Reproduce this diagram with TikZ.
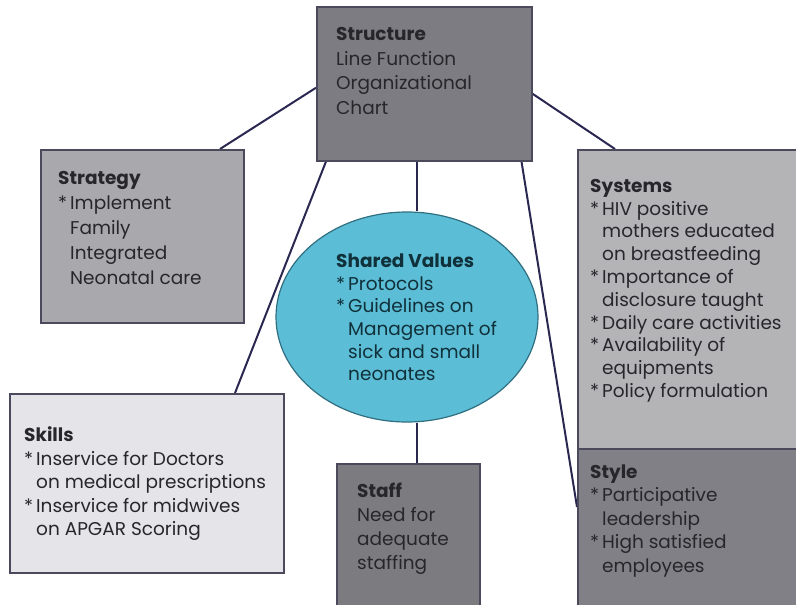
\documentclass[tikz,border=0pt]{standalone}
\usepackage{fontspec}
\setmainfont{Poppins}
\usetikzlibrary{shapes.geometric,backgrounds}
\definecolor{cStructure}{HTML}{7D7C82}
\definecolor{cStrategy}{HTML}{A9A9AD}
\definecolor{cSystems}{HTML}{B4B4B7}
\definecolor{cSkills}{HTML}{E5E5E9}
\definecolor{cStaff}{HTML}{7C7C80}
\definecolor{cStyle}{HTML}{808086}
\definecolor{cShared}{HTML}{5CBDD6}
\definecolor{cSharedLine}{HTML}{2F6F80}
\definecolor{cBoxLine}{HTML}{4A4A5C}
\definecolor{cConn}{HTML}{2A2850}
\definecolor{cText}{HTML}{26262B}
\definecolor{cSharedText}{HTML}{10303A}
\newcommand\bst{\makebox[12pt][l]{*}}
\newcommand\bin{\hspace*{12pt}}
\begin{document}
\begin{tikzpicture}[x=1pt,y=-1pt,
  box/.style={draw=cBoxLine, line width=1.5pt, inner sep=0pt, anchor=north west},
  conn/.style={draw=cConn, line width=2pt},
  txt/.style={inner sep=0pt, anchor=north west, align=left, text=cText,
              font=\fontsize{18.5}{#1}\selectfont},
  txt/.default=23.5pt]
\useasboundingbox (0,0) rectangle (796,605);
\clip (0,0) rectangle (796,605);
% boxes
\node[box, fill=cStructure, minimum width=215pt, minimum height=154pt] (structure) at (316,6) {};
\node[box, fill=cStrategy, minimum width=203pt, minimum height=173pt] (strategy) at (40,149) {};
\node[box, fill=cSystems, minimum width=230pt, minimum height=299pt] (systems) at (577,149) {};
\node[box, fill=cStyle, minimum width=230pt, minimum height=170pt] (style) at (577,448) {};
\node[box, fill=cSkills, minimum width=274pt, minimum height=179pt] (skills) at (9,393) {};
\node[box, fill=cStaff, minimum width=143pt, minimum height=155pt] (staff) at (336,463) {};
\node[ellipse, draw=cSharedLine, line width=1.2pt, fill=cShared, inner sep=0pt,
      minimum width=262pt, minimum height=210pt] (shared) at (407,317) {};
% connectors
\begin{scope}[on background layer]
\draw[conn] ([yshift=-4pt]structure.west) -- ([xshift=180pt]strategy.north west);
\draw[conn] ([yshift=-10pt]structure.east) -- ([xshift=38pt]systems.north west);
\draw[conn] ([xshift=10pt]structure.south west) -- ([xshift=226pt]skills.north west);
\draw[conn] ([xshift=-11pt]structure.south east) -- ([yshift=-59pt]style.north west);
\draw[conn] ([xshift=-7.5pt]structure.south) -- ([xshift=-7.5pt]structure.south |- shared.north);
\draw[conn] ([xshift=8.5pt]staff.north) -- ([xshift=8.5pt]staff.north |- shared.south);
\end{scope}
% texts
\node[txt=24.4pt] (structuret) at (336,27.5) {\textbf{Structure}\\Line Function\\Organizational\\Chart};
\node[txt=25pt] (strategyt) at (58,171.5) {\textbf{Strategy}\\\bst Implement\\\bin Family\\\bin Integrated\\\bin Neonatal care};
\node[txt=22.8pt] (systemst) at (590,179) {\textbf{Systems}\\\bst HIV positive\\\bin mothers educated\\\bin on breastfeeding\\\bst Importance of\\\bin disclosure taught\\\bst Daily care activities\\\bst Availability of\\\bin equipments\\\bst Policy formulation};
\node[txt=23.5pt] (skillst) at (24,426.5) {\textbf{Skills}\\\bst Inservice for Doctors\\\bin on medical prescriptions\\\bst Inservice for midwives\\\bin on APGAR Scoring};
\node[txt=24pt] (stafft) at (357,482.5) {\textbf{Staff}\\Need for\\adequate\\staffing};
\node[txt=23.5pt] (stylet) at (590,464.5) {\textbf{Style}\\\bst Participative\\\bin leadership\\\bst High satisfied\\\bin employees};
\node[txt=22.7pt, text=cSharedText] (sharedt) at (336,253.5) {\textbf{Shared Values}\\\bst Protocols\\\bst Guidelines on\\\bin Management of\\\bin sick and small\\\bin neonates};
\end{tikzpicture}
\end{document}
